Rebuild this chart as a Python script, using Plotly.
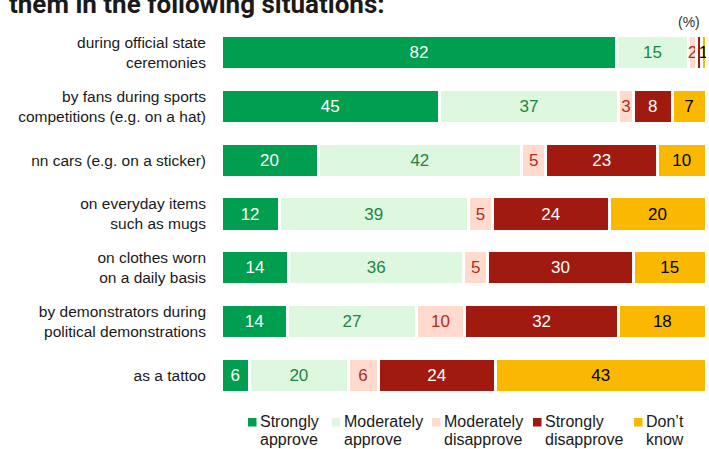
import plotly.graph_objects as go

categories = [
    "during official state<br>ceremonies",
    "by fans during sports<br>competitions (e.g. on a hat)",
    "nn cars (e.g. on a sticker)",
    "on everyday items<br>such as mugs",
    "on clothes worn<br>on a daily basis",
    "by demonstrators during<br>political demonstrations",
    "as a tattoo",
]
series_line1 = ["Strongly", "Moderately", "Moderately", "Strongly", "Don’t"]
series_line2 = ["approve", "approve", "disapprove", "disapprove", "know"]

strongly_approve = [81.6, 45, 20, 12, 14, 13.7, 5.9]
moderately_approve = [14.7, 37, 42, 39, 36, 26.6, 20.3]
moderately_disapprove = [1.8, 3, 5, 5, 5, 9.9, 6.2]
strongly_disapprove = [0.9, 8, 23, 24, 30, 31.8, 24.2]
dont_know = [1.0, 7, 10, 20, 15, 18.0, 43.4]

label_sa = ["82", "45", "20", "12", "14", "14", "6"]
label_ma = ["15", "37", "42", "39", "36", "27", "20"]
label_md = ["2", "3", "5", "5", "5", "10", "6"]
label_sd = ["", "8", "23", "24", "30", "32", "24"]
label_dk = ["1", "7", "10", "20", "15", "18", "43"]

values = [strongly_approve, moderately_approve, moderately_disapprove, strongly_disapprove, dont_know]
labels = [label_sa, label_ma, label_md, label_sd, label_dk]
colors = ["#009E4F", "#DDF8DE", "#FFDACD", "#A01A10", "#FBB800"]
text_colors = ["#FFFFFF", "#1E8446", "#B52A1E", "#FFFFFF", "#000000"]

W, H_TOT = 709, 449
ML, MR, MT, MB = 221, 3, 26, 47
PW = W - ML - MR
PH = H_TOT - MT - MB


def px_x(x):
    return (x - ML) / PW


def px_y(y):
    return (H_TOT - MB - y) / PH


FONT = "Liberation Sans, Arial, sans-serif"

fig = go.Figure()
for vals, labs, col, tcol, n1, n2 in zip(values, labels, colors, text_colors, series_line1, series_line2):
    fig.add_trace(go.Bar(
        y=categories, x=vals, orientation="h", name=f"{n1} {n2}",
        marker=dict(color=col, line=dict(color="white", width=3)),
        text=labs, textposition="inside", insidetextanchor="middle",
        textfont=dict(color=tcol, size=17, family=FONT),
        hoverinfo="skip", showlegend=False,
    ))

fig.update_layout(
    width=W, height=H_TOT,
    margin=dict(l=ML, r=MR, t=MT, b=MB, pad=0),
    barmode="stack", bargap=0.366,
    plot_bgcolor="white", paper_bgcolor="white",
    uniformtext=dict(mode="show", minsize=17),
    font=dict(family=FONT, size=15, color="#1a1a1a"),
)
fig.update_xaxes(range=[0, 100], visible=False, fixedrange=True)
fig.update_yaxes(autorange="reversed", showgrid=False, zeroline=False, showline=False,
                 ticks="", ticklabelstandoff=14, fixedrange=True,
                 tickfont=dict(family=FONT, size=15.5, color="#1a1a1a"))

# title (cut off at top) and unit
fig.add_annotation(text="<b>them in the following situations:</b>", xref="paper", yref="paper",
                   x=px_x(7), y=px_y(21), xanchor="left", yanchor="bottom", showarrow=False,
                   font=dict(family="Roboto, sans-serif", size=26, color="#1a1a1a"))
fig.add_annotation(text="(%)", xref="paper", yref="paper", x=px_x(702), y=px_y(22),
                   xanchor="right", yanchor="middle", showarrow=False,
                   font=dict(family=FONT, size=14, color="#333333"))

# manual legend
sq_left = [248, 331.7, 432, 533, 634]
for xl, col, n1, n2 in zip(sq_left, colors, series_line1, series_line2):
    fig.add_shape(type="rect", xref="paper", yref="paper",
                  x0=px_x(xl), x1=px_x(xl + 8.5), y0=px_y(426.5), y1=px_y(418),
                  fillcolor=col, line=dict(width=0))
    for txt, yc in ((n1, 422), (n2, 440)):
        fig.add_annotation(text=txt, xref="paper", yref="paper", x=px_x(xl + 10), y=px_y(yc),
                           xanchor="left", yanchor="middle", align="left", showarrow=False,
                           font=dict(family=FONT, size=16, color="#1a1a1a"))

fig.write_html("out.html", config={"displayModeBar": False},
               post_script="document.body.style.margin='0';document.body.style.padding='0';")
